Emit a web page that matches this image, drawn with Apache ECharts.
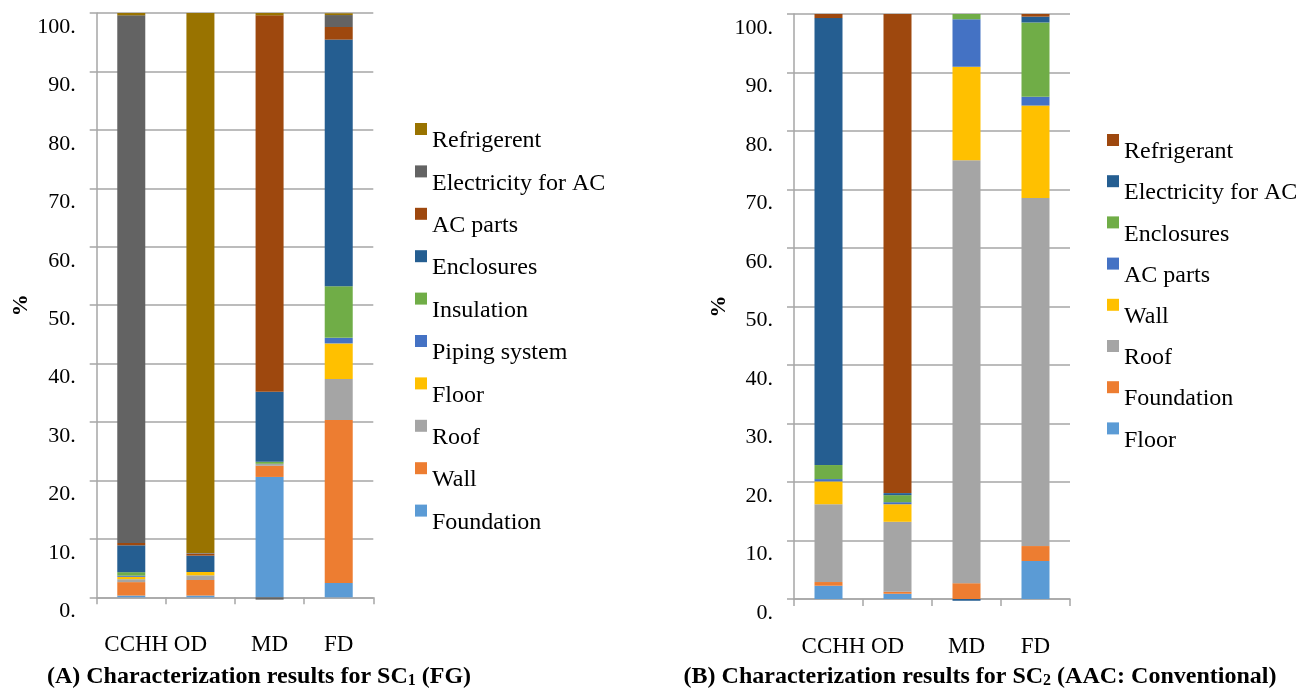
<!DOCTYPE html>
<html>
<head>
<meta charset="utf-8">
<script src="https://cdn.jsdelivr.net/npm/echarts@6/dist/echarts.min.js"></script>
<style>
  html, body { margin: 0; padding: 0; background: #ffffff; }
  #chart { width: 1311px; height: 690px; }
</style>
</head>
<body>
<div id="chart"></div>
<script>
// Categories shared by both panels
const categories = ['CCHH', 'OD', 'MD', 'FD'];
const yTicks = [0, 10, 20, 30, 40, 50, 60, 70, 80, 90, 100];

// Panel A: SC1 (FG), share of each component in %
const foundationA  = [0.3, 0.3, 20.6, 2.45];
const wallA        = [2.3, 2.66, 1.9, 27.9];
const roofA        = [0.5, 0.8, 0.35, 7.0];
const floorA       = [0.4, 0.57, 0, 6.1];
const pipingA      = [0.2, 0, 0, 0.95];
const insulationA  = [0.6, 0, 0.35, 8.85];
const enclosuresA  = [4.6, 2.8, 12.0, 42.2];
const acPartsA     = [0.4, 0.34, 64.4, 2.15];
const electricityA = [90.3, 0.1, -0.4, 2.05];
const refrigerentA = [0.4, 92.43, 0.4, 0.3];

// Panel B: SC2 (AAC: Conventional), share of each component in %
const floorB       = [2.27, 0.9, 0, 6.5];
const foundationB  = [0.63, 0.35, 2.7, 2.55];
const roofB        = [13.3, 11.95, 72.3, 59.5];
const wallB        = [3.9, 3.0, 16.0, 15.8];
const acPartsB     = [0.4, 0.35, 8.1, 1.5];
const enclosuresB  = [2.4, 1.2, 0.9, 12.7];
const electricityB = [76.4, 0.35, -0.3, 1.0];
const refrigerantB = [0.7, 81.9, 0, 0.45];

const FONT = 'Liberation Serif';
const FS = 22;
const AXIS_GRAY = '#a6a6a6';

// stacking order is bottom to top
const seriesA = [
  ['Foundation', foundationA, '#5B9BD5'],
  ['Wall', wallA, '#ED7D31'],
  ['Roof', roofA, '#A5A5A5'],
  ['Floor', floorA, '#FFC000'],
  ['Piping system', pipingA, '#4472C4'],
  ['Insulation', insulationA, '#70AD47'],
  ['Enclosures', enclosuresA, '#255E91'],
  ['AC parts', acPartsA, '#9E480E'],
  ['Electricity for AC', electricityA, '#636363'],
  ['Refrigerent', refrigerentA, '#997300']
];
const seriesB = [
  ['Floor', floorB, '#5B9BD5'],
  ['Foundation', foundationB, '#ED7D31'],
  ['Roof', roofB, '#A5A5A5'],
  ['Wall', wallB, '#FFC000'],
  ['AC parts', acPartsB, '#4472C4'],
  ['Enclosures', enclosuresB, '#70AD47'],
  ['Electricity for AC', electricityB, '#255E91'],
  ['Refrigerant', refrigerantB, '#9E480E']
];

// legend marker: square sitting above the text centre
const ICON = 'path://M0,0L12,0L12,12L0,12ZM0,36';

function makeSeries(list, idx, stack) {
  return list.map(([name, data, color]) => ({
    name: name,
    type: 'bar',
    xAxisIndex: idx,
    yAxisIndex: idx,
    stack: stack,
    barWidth: 28,
    clip: false,
    data: data,
    itemStyle: { color: color },
    emphasis: { disabled: true }
  }));
}

// the first two category names sit close together, like one phrase
const catRich = {
  c0: { fontFamily: FONT, fontSize: 23, color: '#000', padding: [0, 0, 0, 10] },
  c1: { fontFamily: FONT, fontSize: 23, color: '#000', padding: [0, 20, 0, 0] },
  c2: { fontFamily: FONT, fontSize: 23, color: '#000' },
  c3: { fontFamily: FONT, fontSize: 23, color: '#000' }
};

function xAxisCfg(idx) {
  return {
    type: 'category',
    gridIndex: idx,
    data: categories,
    axisLine: { lineStyle: { color: AXIS_GRAY, width: 1.5 } },
    axisTick: { show: true, length: 7, lineStyle: { color: AXIS_GRAY, width: 1.5 } },
    axisLabel: {
      interval: 0, color: '#000', fontFamily: FONT, fontSize: 23, margin: 36,
      formatter: (v, i) => '{c' + i + '|' + v + '}',
      rich: catRich
    }
  };
}

function yAxisCfg(idx) {
  return {
    type: 'value',
    gridIndex: idx,
    min: 0,
    max: 100,
    interval: 10,
    name: '%',
    nameLocation: 'middle',
    nameRotate: 90,
    nameGap: 64,
    nameTextStyle: { color: '#000', fontFamily: FONT, fontSize: FS, fontWeight: 'bold' },
    axisLine: { show: true, lineStyle: { color: AXIS_GRAY, width: 1.5 } },
    axisTick: { show: true, length: 7, lineStyle: { color: AXIS_GRAY, width: 1.5 } },
    splitLine: { show: true, lineStyle: { color: AXIS_GRAY, width: 1.5 } },
    axisLabel: {
      color: '#000', fontFamily: FONT, fontSize: FS, margin: 21,
      verticalAlign: 'top', lineHeight: 28,
      formatter: v => v + '.'
    }
  };
}

function legendCfg(list, left, top, gap) {
  return {
    orient: 'vertical',
    left: left,
    top: top,
    padding: 0,
    itemWidth: 12,
    itemHeight: 36,
    itemGap: gap,
    icon: ICON,
    selectedMode: false,
    data: list.slice().reverse().map(s => ({ name: s[0], itemStyle: { color: s[2] } })),
    textStyle: { color: '#000', fontFamily: FONT, fontSize: 24 }
  };
}

const titleRich = {
  sub: { fontFamily: FONT, fontSize: 16, fontWeight: 'bold', verticalAlign: 'bottom', padding: [6, 0, 0, 0] }
};

const chart = echarts.init(document.getElementById('chart'), null, { renderer: 'canvas' });
chart.setOption({
  animation: false,
  backgroundColor: '#ffffff',
  grid: [
    { left: 96.7, top: 13, width: 276.6, height: 584.3 },
    { left: 794, top: 14, width: 276, height: 585 }
  ],
  xAxis: [xAxisCfg(0), xAxisCfg(1)],
  yAxis: [yAxisCfg(0), yAxisCfg(1)],
  legend: [
    legendCfg(seriesA, 415, 123, 6.4),
    legendCfg(seriesB, 1107, 134, 5.2)
  ],
  graphic: [
    {
      type: 'text', x: 259, y: 677,
      style: {
        text: '(A) Characterization results for SC{sub|1} (FG)',
        rich: titleRich,
        fontFamily: FONT, fontSize: 24, fontWeight: 'bold', fill: '#000',
        align: 'center', verticalAlign: 'middle'
      }
    },
    {
      type: 'text', x: 980, y: 677,
      style: {
        text: '(B) Characterization results for SC{sub|2} (AAC: Conventional)',
        rich: titleRich,
        fontFamily: FONT, fontSize: 24, fontWeight: 'bold', fill: '#000',
        align: 'center', verticalAlign: 'middle'
      }
    }
  ],
  series: makeSeries(seriesA, 0, 'a').concat(makeSeries(seriesB, 1, 'b'))
});
</script>
</body>
</html>
